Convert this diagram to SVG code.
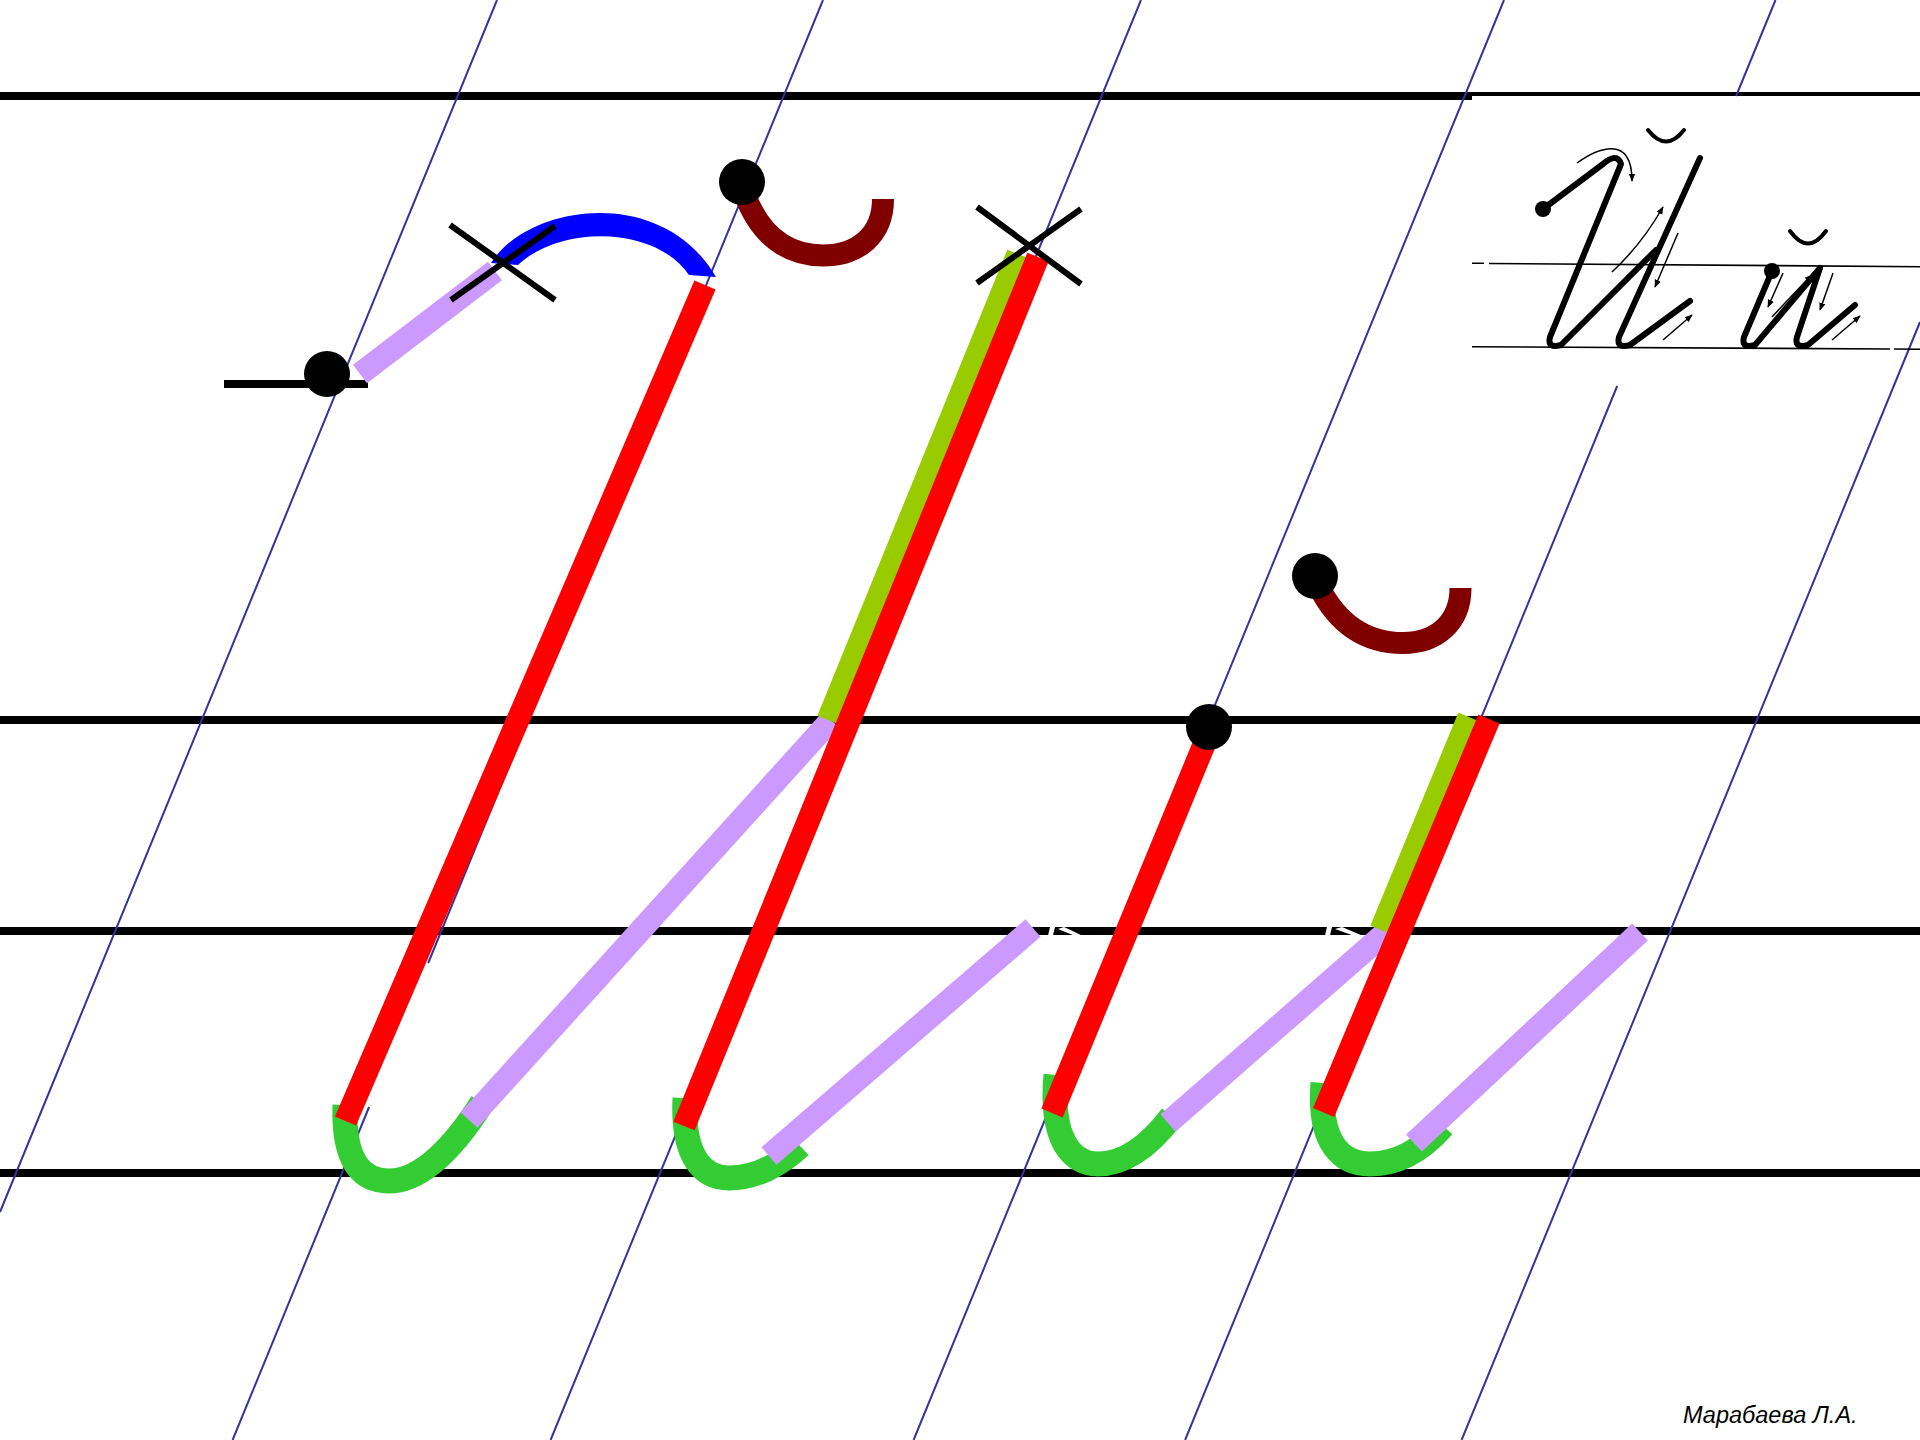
<svg xmlns="http://www.w3.org/2000/svg" width="1920" height="1440" viewBox="0 0 1920 1440">
<style>
.hl{stroke:#000;stroke-width:8;fill:none}
.gl{stroke:#333399;stroke-width:2;fill:none}
.red{stroke:#FF0000;stroke-width:23;fill:none}
.lil{stroke:#CC99FF;stroke-width:23;fill:none}
.grn{stroke:#33CC33;stroke-width:25;fill:none}
.yg{stroke:#99CC00;stroke-width:23;fill:none}
.brn{stroke:#800000;stroke-width:22;fill:none}
.x{stroke:#000;stroke-width:6;fill:none}
.sk{stroke:#000;stroke-width:6;fill:none;stroke-linecap:round;stroke-linejoin:round}
.thin{stroke:#000;stroke-width:1.6;fill:none}
.ar{stroke:#000;stroke-width:1.5;fill:none;marker-end:url(#ah)}
.wn{fill:#fff}
.sig{font-family:"Liberation Sans",Arial,sans-serif;font-style:italic;font-size:23.5px;fill:#000}
</style>
<defs>
<marker id="ah" viewBox="0 0 10 10" refX="9" refY="5" markerWidth="8" markerHeight="8" markerUnits="userSpaceOnUse" orient="auto"><path d="M0,1 L10,5 L0,9 z" fill="#000"/></marker>
</defs>
<rect x="0" y="0" width="1920" height="1440" fill="#fff"/>
<g id="ruling">
<path class="hl" d="M0,96 H1472"/>
<path d="M1472,94 H1920" stroke="#000" stroke-width="4"/>
<path class="hl" d="M0,720 H1920"/>
<path class="hl" d="M0,931 H1920"/>
<path class="hl" d="M0,1173 H1920"/>
<polygon class="wn" points="1050,927 1055,927 1053,935.5 1048,935.5"/>
<polygon class="wn" points="1058,929 1064,927 1082,935.5 1074,935.5"/>
<polygon class="wn" points="1327,927 1332,927 1330,935.5 1325,935.5"/>
<polygon class="wn" points="1335,929 1342,927 1362,935.5 1353,935.5"/>
</g>
<g id="slant-lines">
<path class="gl" d="M497,0 L0,1212"/>
<path class="gl" d="M823,0 L428.2,963"/>
<path class="gl" d="M369.1,1107 L232.6,1440"/>
<path class="gl" d="M1141,0 L550.6,1440"/>
<path class="gl" d="M1504,0 L913.6,1440"/>
<path class="gl" d="M1775.5,0 L1736.1,96"/>
<path class="gl" d="M1617.2,386 L1185.1,1440"/>
<path class="gl" d="M1920,322 L1461.6,1440"/>
</g>
<g id="letter-1">
<path d="M224,384 H368" stroke="#000" stroke-width="8"/>
<path class="lil" d="M360,374 L495,271"/>
<circle cx="327" cy="374" r="23" fill="#000"/>
<path d="M491,263 C528,204 662,184 716,277 L689,275 C655,225 560,225 518,265 Z" fill="#0000FF"/>
<path class="x" d="M450,225 L555,300 M555,226 L451,300"/>
<path class="grn" d="M345,1105 C343,1162 362,1181 389,1181 C420,1181 452,1150 482,1103"/>
<path class="red" d="M705,285 L345.5,1121"/>
<path class="lil" d="M469,1120 L831,720"/>
</g>
<g id="breve-1">
<path class="brn" d="M744,192 C760,238 790,255.5 823,255.5 C858,255.5 883,235 883,199"/>
<circle cx="742" cy="182" r="23" fill="#000"/>
</g>
<g id="letter-2">
<path class="yg" d="M1018,254 L828,720"/>
<path class="grn" d="M685,1098 C682,1160 705,1178 729,1178 C755,1178 780,1165 800,1146"/>
<path class="red" d="M1038,257 L684,1126"/>
<path class="lil" d="M769,1156 L1033,928"/>
<path class="x" d="M977,207 L1081,284 M1081,209 L977,283"/>
</g>
<g id="letter-3">
<path class="grn" d="M1056,1075 C1050,1140 1072,1164 1098,1164 C1125,1164 1150,1145 1172,1116"/>
<path class="red" d="M1208,735 L1052,1113"/>
<path class="lil" d="M1168,1123 L1391,928"/>
<circle cx="1209" cy="727" r="23" fill="#000"/>
</g>
<g id="breve-2">
<path class="brn" d="M1318,585 C1340,630 1372,643 1403,643 C1437,643 1460.5,622 1460.5,588"/>
<circle cx="1315" cy="576" r="23" fill="#000"/>
</g>
<g id="letter-4">
<path class="yg" d="M1469,717 L1381,930"/>
<path class="grn" d="M1323,1083 C1318,1145 1343,1164 1370,1164 C1398,1164 1422,1150 1443,1126"/>
<path class="red" d="M1489,719 L1323.6,1112.5"/>
<path class="lil" d="M1414,1143 L1640,932"/>
</g>
<g id="sample">
<path class="thin" d="M1472,263.3 H1484 M1489,263.5 L1920,266.7"/>
<path class="thin" d="M1472,346.7 L1890,349 M1894,349 L1920,349.3"/>
<circle cx="1543" cy="209" r="8" fill="#000"/>
<path class="sk" d="M1543,209 L1603,164 Q1617,152 1621,164 L1550,337 Q1547,349 1561,345 L1656,250"/>
<path class="sk" d="M1700,158 L1619,337 Q1616,349 1630,345 L1690,301"/>
<path class="sk" d="M1648,130 Q1666,153 1684,130" style="stroke-width:4"/>
<circle cx="1772" cy="271" r="8" fill="#000"/>
<path class="sk" d="M1772,271 L1744,337 Q1741,349 1755,345 L1820,268 L1797,337 Q1794,349 1808,345 L1855,305"/>
<path class="sk" d="M1790,231 Q1808,256 1826,231" style="stroke-width:4"/>
</g>
<g id="connectors">
<path class="ar" d="M1577,163 C1595,150 1632,132 1632,181"/>
<path class="ar" d="M1612,272 Q1642,244 1663,207"/>
<path class="ar" d="M1678,233 L1655,287"/>
<path class="ar" d="M1663,340 L1692,315"/>
<path class="ar" d="M1783,273 L1768,307"/>
<path class="ar" d="M1772,317 Q1795,292 1812,275"/>
<path class="ar" d="M1833,273 L1820,310"/>
<path class="ar" d="M1832,340 L1860,316"/>
</g>
<text class="sig" x="1683" y="1423">Марабаева Л.А.</text>
</svg>
